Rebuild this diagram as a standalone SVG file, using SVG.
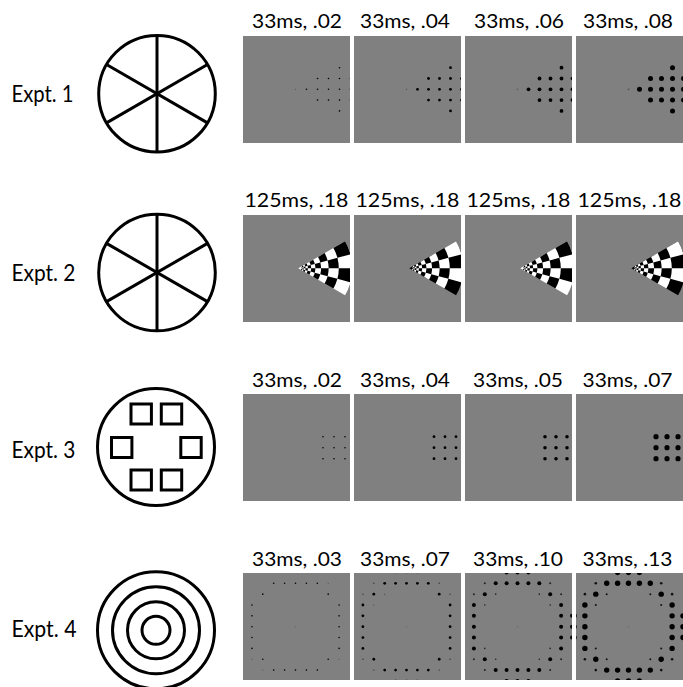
<svg xmlns="http://www.w3.org/2000/svg" xmlns:xlink="http://www.w3.org/1999/xlink" width="683" height="687" viewBox="0 0 683 687">
<style>
.bg{fill:#808080}
.hdr{font-family:Lato,"Liberation Sans",sans-serif;font-size:18.5px;fill:#000;text-anchor:middle}
.lbl{font-family:Lato,"Liberation Sans",sans-serif;font-size:23px;fill:#000}
.icon{fill:none;stroke:#000;stroke-width:3}
.fix{fill:#555}
</style>
<defs>
<path id="cells" d="M46.77,-27 A54,54 0 0 1 52.16,-13.98 L39.12,-10.48 A40.5,40.5 0 0 0 35.07,-20.25Z M54,0 A54,54 0 0 1 52.16,13.98 L39.12,10.48 A40.5,40.5 0 0 0 40.5,0Z M39.12,-10.48 A40.5,40.5 0 0 1 40.5,0 L30.38,0 A30.38,30.38 0 0 0 29.34,-7.86Z M39.12,10.48 A40.5,40.5 0 0 1 35.07,20.25 L26.31,15.19 A30.38,30.38 0 0 0 29.34,7.86Z M26.31,-15.19 A30.38,30.38 0 0 1 29.34,-7.86 L22,-5.9 A22.78,22.78 0 0 0 19.73,-11.39Z M30.38,0 A30.38,30.38 0 0 1 29.34,7.86 L22,5.9 A22.78,22.78 0 0 0 22.78,0Z M22,-5.9 A22.78,22.78 0 0 1 22.78,0 L17.09,0 A17.09,17.09 0 0 0 16.51,-4.42Z M22,5.9 A22.78,22.78 0 0 1 19.73,11.39 L14.8,8.54 A17.09,17.09 0 0 0 16.51,4.42Z M14.8,-8.54 A17.09,17.09 0 0 1 16.51,-4.42 L12.38,-3.32 A12.81,12.81 0 0 0 11.1,-6.41Z M17.09,0 A17.09,17.09 0 0 1 16.51,4.42 L12.38,3.32 A12.81,12.81 0 0 0 12.81,0Z M12.38,-3.32 A12.81,12.81 0 0 1 12.81,0 L9.61,0 A9.61,9.61 0 0 0 9.28,-2.49Z M12.38,3.32 A12.81,12.81 0 0 1 11.1,6.41 L8.32,4.81 A9.61,9.61 0 0 0 9.28,2.49Z M8.32,-4.81 A9.61,9.61 0 0 1 9.28,-2.49 L6.96,-1.87 A7.21,7.21 0 0 0 6.24,-3.6Z M9.61,0 A9.61,9.61 0 0 1 9.28,2.49 L6.96,1.87 A7.21,7.21 0 0 0 7.21,0Z M6.96,-1.87 A7.21,7.21 0 0 1 7.21,0 L5.41,0 A5.41,5.41 0 0 0 5.22,-1.4Z M6.96,1.87 A7.21,7.21 0 0 1 6.24,3.6 L4.68,2.7 A5.41,5.41 0 0 0 5.22,1.4Z M4.68,-2.7 L5.22,-1.4 L3.91,-1.05 L3.51,-2.03Z M5.41,0 L5.22,1.4 L3.91,1.05 L4.05,0Z M3.91,-1.05 L4.05,0 L3.04,0 L2.94,-0.79Z M3.91,1.05 L3.51,2.03 L2.63,1.52 L2.94,0.79Z"/>
<path id="sector" d="M0,0 L46.77,-27 A54,54 0 0 1 46.77,27 Z"/>
<g id="wedgeA"><use xlink:href="#sector" fill="#fff"/><use xlink:href="#cells" fill="#000"/></g>
<g id="wedgeB"><use xlink:href="#sector" fill="#000"/><use xlink:href="#cells" fill="#fff"/></g>
<g id="spokes" class="icon"><circle r="58.3"/><line x1="0" y1="-58.3" x2="0" y2="58.3"/><line x1="-50.5" y1="-29.15" x2="50.5" y2="29.15"/><line x1="-50.5" y1="29.15" x2="50.5" y2="-29.15"/></g>
</defs>

<g id="expt1">
<text class="lbl" x="11.5" y="101.5" textLength="62" lengthAdjust="spacingAndGlyphs">Expt. 1</text>
<use id="icon1" xlink:href="#spokes" x="157" y="93.7"/>
<g id="hdr1">
<text class="hdr" x="297" y="28" textLength="90" lengthAdjust="spacingAndGlyphs">33ms, .02</text>
<text class="hdr" x="405" y="28" textLength="90" lengthAdjust="spacingAndGlyphs">33ms, .04</text>
<text class="hdr" x="519" y="28" textLength="90" lengthAdjust="spacingAndGlyphs">33ms, .06</text>
<text class="hdr" x="628" y="28" textLength="90" lengthAdjust="spacingAndGlyphs">33ms, .08</text>
</g>
<svg id="p1a" x="243" y="36" width="107" height="107"><rect class="bg" width="107" height="107"/><circle class="fix" cx="52.5" cy="53.3" r="0.6"/>
<g fill="#000"><circle cx="63.5" cy="53.3" r="0.8"/><circle cx="74.5" cy="42.5" r="0.8"/><circle cx="74.5" cy="53.3" r="0.8"/><circle cx="74.5" cy="64.1" r="0.8"/><circle cx="85.5" cy="42.5" r="0.8"/><circle cx="85.5" cy="53.3" r="0.8"/><circle cx="85.5" cy="64.1" r="0.8"/><circle cx="96.5" cy="31.7" r="0.8"/><circle cx="96.5" cy="42.5" r="0.8"/><circle cx="96.5" cy="53.3" r="0.8"/><circle cx="96.5" cy="64.1" r="0.8"/><circle cx="96.5" cy="74.9" r="0.8"/><circle cx="107.5" cy="42.5" r="0.8"/><circle cx="107.5" cy="53.3" r="0.8"/><circle cx="107.5" cy="64.1" r="0.8"/></g></svg>
<svg id="p1b" x="354" y="36" width="107" height="107"><rect class="bg" width="107" height="107"/><circle class="fix" cx="52.5" cy="53.3" r="0.7"/>
<g fill="#000"><circle cx="63.5" cy="53.3" r="1.4"/><circle cx="74.5" cy="42.5" r="1.4"/><circle cx="74.5" cy="53.3" r="1.4"/><circle cx="74.5" cy="64.1" r="1.4"/><circle cx="85.5" cy="42.5" r="1.4"/><circle cx="85.5" cy="53.3" r="1.4"/><circle cx="85.5" cy="64.1" r="1.4"/><circle cx="96.5" cy="31.7" r="1.4"/><circle cx="96.5" cy="42.5" r="1.4"/><circle cx="96.5" cy="53.3" r="1.4"/><circle cx="96.5" cy="64.1" r="1.4"/><circle cx="96.5" cy="74.9" r="1.4"/><circle cx="107.5" cy="42.5" r="1.4"/><circle cx="107.5" cy="53.3" r="1.4"/><circle cx="107.5" cy="64.1" r="1.4"/></g></svg>
<svg id="p1c" x="465" y="36" width="107" height="107"><rect class="bg" width="107" height="107"/><circle class="fix" cx="52.5" cy="53.3" r="0.8"/>
<g fill="#000"><circle cx="63.5" cy="53.3" r="1.9"/><circle cx="74.5" cy="42.5" r="1.9"/><circle cx="74.5" cy="53.3" r="1.9"/><circle cx="74.5" cy="64.1" r="1.9"/><circle cx="85.5" cy="42.5" r="1.9"/><circle cx="85.5" cy="53.3" r="1.9"/><circle cx="85.5" cy="64.1" r="1.9"/><circle cx="96.5" cy="31.7" r="1.9"/><circle cx="96.5" cy="42.5" r="1.9"/><circle cx="96.5" cy="53.3" r="1.9"/><circle cx="96.5" cy="64.1" r="1.9"/><circle cx="96.5" cy="74.9" r="1.9"/><circle cx="107.5" cy="42.5" r="1.9"/><circle cx="107.5" cy="53.3" r="1.9"/><circle cx="107.5" cy="64.1" r="1.9"/></g></svg>
<svg id="p1d" x="576" y="36" width="107" height="107"><rect class="bg" width="107" height="107"/><circle class="fix" cx="52.5" cy="53.3" r="0.9"/>
<g fill="#000"><circle cx="63.5" cy="53.3" r="2.5"/><circle cx="74.5" cy="42.5" r="2.5"/><circle cx="74.5" cy="53.3" r="2.5"/><circle cx="74.5" cy="64.1" r="2.5"/><circle cx="85.5" cy="42.5" r="2.5"/><circle cx="85.5" cy="53.3" r="2.5"/><circle cx="85.5" cy="64.1" r="2.5"/><circle cx="96.5" cy="31.7" r="2.5"/><circle cx="96.5" cy="42.5" r="2.5"/><circle cx="96.5" cy="53.3" r="2.5"/><circle cx="96.5" cy="64.1" r="2.5"/><circle cx="96.5" cy="74.9" r="2.5"/><circle cx="107.5" cy="42.5" r="2.5"/><circle cx="107.5" cy="53.3" r="2.5"/><circle cx="107.5" cy="64.1" r="2.5"/></g></svg>
</g>

<g id="expt2">
<text class="lbl" x="11.5" y="280.5" textLength="64" lengthAdjust="spacingAndGlyphs">Expt. 2</text>
<use id="icon2" xlink:href="#spokes" x="157" y="272.5"/>
<g id="hdr2">
<text class="hdr" x="296.5" y="207" textLength="104" lengthAdjust="spacingAndGlyphs">125ms, .18</text>
<text class="hdr" x="407.5" y="207" textLength="104" lengthAdjust="spacingAndGlyphs">125ms, .18</text>
<text class="hdr" x="518.5" y="207" textLength="104" lengthAdjust="spacingAndGlyphs">125ms, .18</text>
<text class="hdr" x="629.5" y="207" textLength="104" lengthAdjust="spacingAndGlyphs">125ms, .18</text>
</g>
<svg id="p2a" x="243" y="215" width="107" height="107"><rect class="bg" width="107" height="107"/><use xlink:href="#wedgeA" transform="translate(55.3,53.3)"/></svg>
<svg id="p2b" x="354" y="215" width="107" height="107"><rect class="bg" width="107" height="107"/><use xlink:href="#wedgeB" transform="translate(55.3,53.3)"/></svg>
<svg id="p2c" x="465" y="215" width="107" height="107"><rect class="bg" width="107" height="107"/><use xlink:href="#wedgeA" transform="translate(55.3,53.3)"/></svg>
<svg id="p2d" x="576" y="215" width="107" height="107"><rect class="bg" width="107" height="107"/><use xlink:href="#wedgeB" transform="translate(55.3,53.3)"/></svg>
</g>

<g id="expt3">
<text class="lbl" x="11.5" y="457.5" textLength="64" lengthAdjust="spacingAndGlyphs">Expt. 3</text>
<g id="icon3" class="icon">
<circle cx="156" cy="447" r="58.5"/>
<rect x="131" y="404" width="20.4" height="20"/><rect x="161.3" y="404" width="20.4" height="20"/>
<rect x="111.5" y="437.5" width="20.4" height="20"/><rect x="180.8" y="437.5" width="20.4" height="20"/>
<rect x="131" y="470" width="20.4" height="20"/><rect x="161.3" y="470" width="20.4" height="20"/>
</g>
<g id="hdr3">
<text class="hdr" x="297" y="386.5" textLength="90" lengthAdjust="spacingAndGlyphs">33ms, .02</text>
<text class="hdr" x="405" y="386.5" textLength="90" lengthAdjust="spacingAndGlyphs">33ms, .04</text>
<text class="hdr" x="518" y="386.5" textLength="90" lengthAdjust="spacingAndGlyphs">33ms, .05</text>
<text class="hdr" x="627.5" y="386.5" textLength="90" lengthAdjust="spacingAndGlyphs">33ms, .07</text>
</g>
<svg id="p3a" x="243" y="394" width="107" height="107"><rect class="bg" width="107" height="107"/>
<g fill="#000"><circle cx="80" cy="42.7" r="0.8"/><circle cx="91" cy="42.7" r="0.8"/><circle cx="102" cy="42.7" r="0.8"/><circle cx="80" cy="53.7" r="0.8"/><circle cx="91" cy="53.7" r="0.8"/><circle cx="102" cy="53.7" r="0.8"/><circle cx="80" cy="64.7" r="0.8"/><circle cx="91" cy="64.7" r="0.8"/><circle cx="102" cy="64.7" r="0.8"/></g></svg>
<svg id="p3b" x="354" y="394" width="107" height="107"><rect class="bg" width="107" height="107"/>
<g fill="#000"><circle cx="80" cy="42.7" r="1.4"/><circle cx="91" cy="42.7" r="1.4"/><circle cx="102" cy="42.7" r="1.4"/><circle cx="80" cy="53.7" r="1.4"/><circle cx="91" cy="53.7" r="1.4"/><circle cx="102" cy="53.7" r="1.4"/><circle cx="80" cy="64.7" r="1.4"/><circle cx="91" cy="64.7" r="1.4"/><circle cx="102" cy="64.7" r="1.4"/></g></svg>
<svg id="p3c" x="465" y="394" width="107" height="107"><rect class="bg" width="107" height="107"/>
<g fill="#000"><circle cx="80" cy="42.7" r="1.8"/><circle cx="91" cy="42.7" r="1.8"/><circle cx="102" cy="42.7" r="1.8"/><circle cx="80" cy="53.7" r="1.8"/><circle cx="91" cy="53.7" r="1.8"/><circle cx="102" cy="53.7" r="1.8"/><circle cx="80" cy="64.7" r="1.8"/><circle cx="91" cy="64.7" r="1.8"/><circle cx="102" cy="64.7" r="1.8"/></g></svg>
<svg id="p3d" x="576" y="394" width="107" height="107"><rect class="bg" width="107" height="107"/>
<g fill="#000"><circle cx="80" cy="42.7" r="2.6"/><circle cx="91" cy="42.7" r="2.6"/><circle cx="102" cy="42.7" r="2.6"/><circle cx="80" cy="53.7" r="2.6"/><circle cx="91" cy="53.7" r="2.6"/><circle cx="102" cy="53.7" r="2.6"/><circle cx="80" cy="64.7" r="2.6"/><circle cx="91" cy="64.7" r="2.6"/><circle cx="102" cy="64.7" r="2.6"/></g></svg>
</g>

<g id="expt4">
<text class="lbl" x="11.5" y="637.3" textLength="65" lengthAdjust="spacingAndGlyphs">Expt. 4</text>
<g id="icon4" class="icon">
<circle cx="156" cy="630.3" r="58.5"/><circle cx="156" cy="630.3" r="43.5"/><circle cx="156" cy="630.3" r="28.5"/><circle cx="156" cy="630.3" r="14"/>
</g>
<g id="hdr4">
<text class="hdr" x="297" y="565.5" textLength="90" lengthAdjust="spacingAndGlyphs">33ms, .03</text>
<text class="hdr" x="405" y="565.5" textLength="90" lengthAdjust="spacingAndGlyphs">33ms, .07</text>
<text class="hdr" x="518" y="565.5" textLength="90" lengthAdjust="spacingAndGlyphs">33ms, .10</text>
<text class="hdr" x="627.5" y="565.5" textLength="90" lengthAdjust="spacingAndGlyphs">33ms, .13</text>
</g>
<svg id="p4a" x="243" y="573" width="107" height="107"><rect class="bg" width="107" height="107"/><circle cx="52.5" cy="53.7" r="0.7" fill="#6a6a6a"/>
<g fill="#000"><circle cx="30.7" cy="10.3" r="0.8"/><circle cx="41.6" cy="10.3" r="0.8"/><circle cx="52.5" cy="10.3" r="0.8"/><circle cx="63.4" cy="10.3" r="0.8"/><circle cx="74.3" cy="10.3" r="0.8"/>
<circle cx="30.7" cy="97.1" r="0.8"/><circle cx="41.6" cy="97.1" r="0.8"/><circle cx="52.5" cy="97.1" r="0.8"/><circle cx="63.4" cy="97.1" r="0.8"/><circle cx="74.3" cy="97.1" r="0.8"/>
<circle cx="8.9" cy="32" r="0.8"/><circle cx="8.9" cy="42.85" r="0.8"/><circle cx="8.9" cy="53.7" r="0.8"/><circle cx="8.9" cy="64.55" r="0.8"/><circle cx="8.9" cy="75.4" r="0.8"/>
<circle cx="96.1" cy="32" r="0.8"/><circle cx="96.1" cy="42.85" r="0.8"/><circle cx="96.1" cy="53.7" r="0.8"/><circle cx="96.1" cy="64.55" r="0.8"/><circle cx="96.1" cy="75.4" r="0.8"/>
<circle cx="19.8" cy="21.15" r="0.8"/><circle cx="85.2" cy="21.15" r="0.8"/><circle cx="19.8" cy="86.25" r="0.8"/><circle cx="85.2" cy="86.25" r="0.8"/></g>
<g fill="#444"><circle cx="85.2" cy="10.3" r="0.5"/><circle cx="8.9" cy="86.25" r="0.5"/><circle cx="96.1" cy="86.25" r="0.5"/><circle cx="19.8" cy="97.1" r="0.5"/></g></svg>
<svg id="p4b" x="354" y="573" width="107" height="107"><rect class="bg" width="107" height="107"/><circle cx="52.5" cy="53.7" r="0.7" fill="#6a6a6a"/>
<g fill="#000"><circle cx="30.7" cy="10.3" r="1.4"/><circle cx="41.6" cy="10.3" r="1.4"/><circle cx="52.5" cy="10.3" r="1.4"/><circle cx="63.4" cy="10.3" r="1.4"/><circle cx="74.3" cy="10.3" r="1.4"/>
<circle cx="30.7" cy="97.1" r="1.4"/><circle cx="41.6" cy="97.1" r="1.4"/><circle cx="52.5" cy="97.1" r="1.4"/><circle cx="63.4" cy="97.1" r="1.4"/><circle cx="74.3" cy="97.1" r="1.4"/>
<circle cx="8.9" cy="32" r="1.4"/><circle cx="8.9" cy="42.85" r="1.4"/><circle cx="8.9" cy="53.7" r="1.4"/><circle cx="8.9" cy="64.55" r="1.4"/><circle cx="8.9" cy="75.4" r="1.4"/>
<circle cx="96.1" cy="32" r="1.4"/><circle cx="96.1" cy="42.85" r="1.4"/><circle cx="96.1" cy="53.7" r="1.4"/><circle cx="96.1" cy="64.55" r="1.4"/><circle cx="96.1" cy="75.4" r="1.4"/>
<circle cx="19.8" cy="21.15" r="1.4"/><circle cx="85.2" cy="21.15" r="1.4"/><circle cx="19.8" cy="86.25" r="1.4"/><circle cx="85.2" cy="86.25" r="1.4"/></g>
<g fill="#333"><circle cx="19.8" cy="10.3" r="0.7"/><circle cx="85.2" cy="10.3" r="0.7"/><circle cx="19.8" cy="97.1" r="0.7"/><circle cx="85.2" cy="97.1" r="0.7"/><circle cx="8.9" cy="21.15" r="0.7"/><circle cx="96.1" cy="21.15" r="0.7"/><circle cx="8.9" cy="86.25" r="0.7"/><circle cx="96.1" cy="86.25" r="0.7"/><circle cx="19.8" cy="32" r="0.5"/><circle cx="30.7" cy="21.15" r="0.5"/><circle cx="41.6" cy="-0.55" r="0.9"/><circle cx="52.5" cy="-0.55" r="0.9"/><circle cx="63.4" cy="-0.55" r="0.9"/><circle cx="41.6" cy="107.95" r="1.4"/><circle cx="52.5" cy="107.95" r="1.4"/><circle cx="63.4" cy="107.95" r="1.4"/></g></svg>
<svg id="p4c" x="465" y="573" width="107" height="107"><rect class="bg" width="107" height="107"/><circle cx="52.5" cy="53.7" r="0.7" fill="#6a6a6a"/>
<g fill="#000"><circle cx="30.7" cy="10.3" r="2"/><circle cx="41.6" cy="10.3" r="2"/><circle cx="52.5" cy="10.3" r="2"/><circle cx="63.4" cy="10.3" r="2"/><circle cx="74.3" cy="10.3" r="2"/>
<circle cx="30.7" cy="97.1" r="2"/><circle cx="41.6" cy="97.1" r="2"/><circle cx="52.5" cy="97.1" r="2"/><circle cx="63.4" cy="97.1" r="2"/><circle cx="74.3" cy="97.1" r="2"/>
<circle cx="8.9" cy="32" r="2"/><circle cx="8.9" cy="42.85" r="2"/><circle cx="8.9" cy="53.7" r="2"/><circle cx="8.9" cy="64.55" r="2"/><circle cx="8.9" cy="75.4" r="2"/>
<circle cx="96.1" cy="32" r="2"/><circle cx="96.1" cy="42.85" r="2"/><circle cx="96.1" cy="53.7" r="2"/><circle cx="96.1" cy="64.55" r="2"/><circle cx="96.1" cy="75.4" r="2"/>
<circle cx="19.8" cy="21.15" r="2"/><circle cx="85.2" cy="21.15" r="2"/><circle cx="19.8" cy="86.25" r="2"/><circle cx="85.2" cy="86.25" r="2"/>
<circle cx="41.6" cy="-0.55" r="2"/><circle cx="52.5" cy="-0.55" r="2"/><circle cx="63.4" cy="-0.55" r="2"/><circle cx="41.6" cy="107.95" r="2"/><circle cx="52.5" cy="107.95" r="2"/><circle cx="63.4" cy="107.95" r="2"/>
<circle cx="-2" cy="42.85" r="2"/><circle cx="-2" cy="53.7" r="2"/><circle cx="-2" cy="64.55" r="2"/><circle cx="107" cy="42.85" r="2"/><circle cx="107" cy="53.7" r="2"/><circle cx="107" cy="64.55" r="2"/></g>
<g fill="#222"><circle cx="19.8" cy="10.3" r="1"/><circle cx="85.2" cy="10.3" r="1"/><circle cx="19.8" cy="97.1" r="1"/><circle cx="85.2" cy="97.1" r="1"/><circle cx="8.9" cy="21.15" r="1"/><circle cx="96.1" cy="21.15" r="1"/><circle cx="8.9" cy="86.25" r="1"/><circle cx="96.1" cy="86.25" r="1"/>
<circle cx="30.7" cy="21.15" r="0.8"/><circle cx="74.3" cy="21.15" r="0.8"/><circle cx="30.7" cy="86.25" r="0.8"/><circle cx="74.3" cy="86.25" r="0.8"/><circle cx="19.8" cy="32" r="0.8"/><circle cx="85.2" cy="32" r="0.8"/><circle cx="19.8" cy="75.4" r="0.8"/><circle cx="85.2" cy="75.4" r="0.8"/></g></svg>
<svg id="p4d" x="576" y="573" width="107" height="107"><rect class="bg" width="107" height="107"/><circle cx="52.5" cy="53.7" r="0.7" fill="#6a6a6a"/>
<g fill="#000"><circle cx="30.7" cy="10.3" r="2.7"/><circle cx="41.6" cy="10.3" r="2.7"/><circle cx="52.5" cy="10.3" r="2.7"/><circle cx="63.4" cy="10.3" r="2.7"/><circle cx="74.3" cy="10.3" r="2.7"/>
<circle cx="30.7" cy="97.1" r="2.7"/><circle cx="41.6" cy="97.1" r="2.7"/><circle cx="52.5" cy="97.1" r="2.7"/><circle cx="63.4" cy="97.1" r="2.7"/><circle cx="74.3" cy="97.1" r="2.7"/>
<circle cx="8.9" cy="32" r="2.7"/><circle cx="8.9" cy="42.85" r="2.7"/><circle cx="8.9" cy="53.7" r="2.7"/><circle cx="8.9" cy="64.55" r="2.7"/><circle cx="8.9" cy="75.4" r="2.7"/>
<circle cx="96.1" cy="32" r="2.7"/><circle cx="96.1" cy="42.85" r="2.7"/><circle cx="96.1" cy="53.7" r="2.7"/><circle cx="96.1" cy="64.55" r="2.7"/><circle cx="96.1" cy="75.4" r="2.7"/>
<circle cx="19.8" cy="21.15" r="2.7"/><circle cx="85.2" cy="21.15" r="2.7"/><circle cx="19.8" cy="86.25" r="2.7"/><circle cx="85.2" cy="86.25" r="2.7"/>
<circle cx="41.6" cy="-0.55" r="2.7"/><circle cx="52.5" cy="-0.55" r="2.7"/><circle cx="63.4" cy="-0.55" r="2.7"/><circle cx="41.6" cy="107.95" r="2.7"/><circle cx="52.5" cy="107.95" r="2.7"/><circle cx="63.4" cy="107.95" r="2.7"/>
<circle cx="-2" cy="42.85" r="2.7"/><circle cx="-2" cy="53.7" r="2.7"/><circle cx="-2" cy="64.55" r="2.7"/><circle cx="107" cy="42.85" r="2.7"/><circle cx="107" cy="53.7" r="2.7"/><circle cx="107" cy="64.55" r="2.7"/></g>
<g fill="#111"><circle cx="19.8" cy="10.3" r="1.3"/><circle cx="85.2" cy="10.3" r="1.3"/><circle cx="19.8" cy="97.1" r="1.3"/><circle cx="85.2" cy="97.1" r="1.3"/><circle cx="8.9" cy="21.15" r="1.3"/><circle cx="96.1" cy="21.15" r="1.3"/><circle cx="8.9" cy="86.25" r="1.3"/><circle cx="96.1" cy="86.25" r="1.3"/>
<circle cx="30.7" cy="21.15" r="1"/><circle cx="74.3" cy="21.15" r="1"/><circle cx="30.7" cy="86.25" r="1"/><circle cx="74.3" cy="86.25" r="1"/><circle cx="19.8" cy="32" r="1"/><circle cx="85.2" cy="32" r="1"/><circle cx="19.8" cy="75.4" r="1"/><circle cx="85.2" cy="75.4" r="1"/></g></svg>
</g>
</svg>
